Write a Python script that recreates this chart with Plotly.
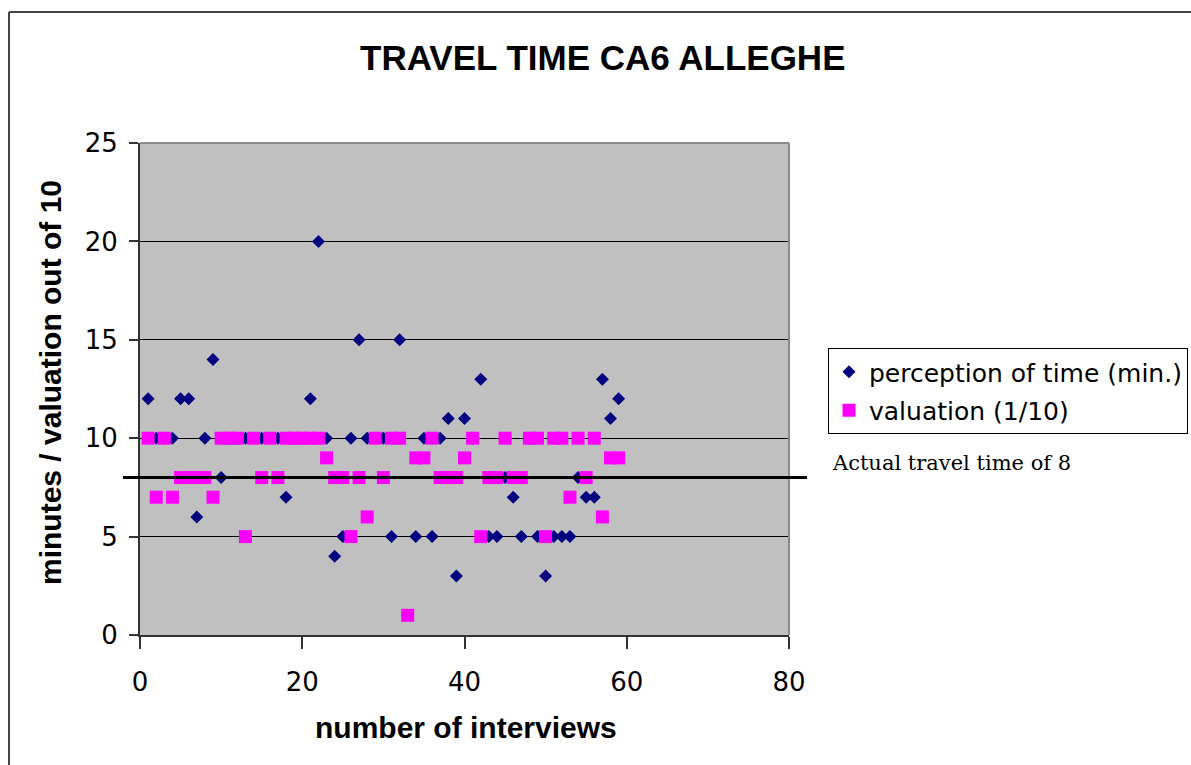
import plotly.graph_objects as go

# Interview index and the two answers given in each interview
interviews = list(range(1, 60))
perception_min = [12, 10, 10, 10, 12, 12, 6, 10, 14, 8,
                  10, 10, 10, 10, 10, 10, 10, 7, 10, 10,
                  12, 20, 10, 4, 5, 10, 15, 10, 10, 10,
                  5, 15, 1, 5, 10, 5, 10, 11, 3, 11,
                  10, 13, 5, 5, 8, 7, 5, 10, 5, 3,
                  5, 5, 5, 8, 7, 7, 13, 11, 12]
valuation_10 = [10, 7, 10, 7, 8, 8, 8, 8, 7, 10,
                10, 10, 5, 10, 8, 10, 8, 10, 10, 10,
                10, 10, 9, 8, 8, 5, 8, 6, 10, 8,
                10, 10, 1, 9, 9, 10, 8, 8, 8, 9,
                10, 5, 8, 8, 10, 8, 8, 10, 10, 5,
                10, 10, 7, 10, 8, 10, 6, 9, 9]
actual_travel_time = 8

x_ticks = [0, 20, 40, 60, 80]
y_ticks = [0, 5, 10, 15, 20, 25]

# Page geometry (pixels) of the plotting area
W, H = 1191, 765
L, R, T, B = 140, 789, 143, 635
PW, PH = R - L, B - T


def xp(px):
    return (px - L) / PW


def yp(py):
    return (B - py) / PH


SANS = "DejaVu Sans, Verdana, sans-serif"
BOLD = "Liberation Sans, Arial, sans-serif"

fig = go.Figure()
fig.add_trace(go.Scatter(
    x=interviews, y=perception_min, mode="markers",
    name="perception of time (min.)", legendgroup="p",
    marker=dict(symbol="diamond", size=10, color="#000080", line=dict(width=0)),
))
fig.add_trace(go.Scatter(
    x=interviews, y=valuation_10, mode="markers",
    name="valuation (1/10)", legendgroup="v",
    marker=dict(symbol="square", size=13, color="#FF00FF", line=dict(width=0)),
))

fig.update_layout(
    template="none",
    width=W, height=H,
    margin=dict(l=L, r=W - R, t=T, b=H - B, pad=0, autoexpand=False),
    paper_bgcolor="white",
    plot_bgcolor="#C0C0C0",
    showlegend=True,
    legend=dict(
        x=xp(828), y=yp(348), xanchor="left", yanchor="top",
        bgcolor="white", bordercolor="black", borderwidth=1,
        font=dict(family=SANS, size=25, color="black"),
        tracegroupgap=3,
    ),
    xaxis=dict(
        range=[0, 80], tickvals=x_ticks, ticktext=[str(v) for v in x_ticks],
        showgrid=False, zeroline=False,
        showline=True, linecolor="#333333", linewidth=2,
        ticks="outside", ticklen=12, tickcolor="#333333", tickwidth=2,
        tickfont=dict(family=SANS, size=26, color="black"),
        ticklabelstandoff=11,
    ),
    yaxis=dict(
        range=[0, 25], tickvals=y_ticks, ticktext=[str(v) for v in y_ticks],
        showgrid=True, gridcolor="black", gridwidth=1, zeroline=False,
        showline=True, linecolor="#333333", linewidth=2,
        ticks="outside", ticklen=9, tickcolor="#333333", tickwidth=2,
        tickfont=dict(family=SANS, size=26, color="black"),
        ticklabelstandoff=6,
    ),
    shapes=[
        # gray top and right edge of the plotting area
        dict(type="line", xref="paper", yref="paper", x0=0, x1=1, y0=1, y1=1,
             line=dict(color="#8C8C8C", width=2), layer="above"),
        dict(type="line", xref="paper", yref="paper", x0=1, x1=1, y0=0, y1=1,
             line=dict(color="#8C8C8C", width=2), layer="above"),
        # outer chart frame
        dict(type="line", xref="paper", yref="paper", x0=xp(9), x1=xp(W + 5),
             y0=yp(12), y1=yp(12), line=dict(color="#444444", width=2), layer="above"),
        dict(type="line", xref="paper", yref="paper", x0=xp(9), x1=xp(9),
             y0=yp(12), y1=yp(H + 5), line=dict(color="#444444", width=2), layer="above"),
        # actual travel time reference line
        dict(type="line", xref="paper", yref="y", x0=xp(123), x1=xp(807),
             y0=actual_travel_time, y1=actual_travel_time,
             line=dict(color="black", width=3), layer="above"),
    ],
    annotations=[
        dict(text="<b>TRAVEL TIME CA6 ALLEGHE</b>", xref="paper", yref="paper",
             x=xp(603), y=yp(57), xanchor="center", yanchor="middle", showarrow=False,
             font=dict(family=BOLD, size=35, color="black")),
        dict(text="<b>number of interviews</b>", xref="paper", yref="paper",
             x=xp(466), y=yp(727), xanchor="center", yanchor="middle", showarrow=False,
             font=dict(family=BOLD, size=30, color="black")),
        dict(text="<b>minutes / valuation out of 10</b>", xref="paper", yref="paper",
             x=xp(50), y=yp(383), xanchor="center", yanchor="middle", showarrow=False,
             textangle=-90, font=dict(family=BOLD, size=30, color="black")),
        dict(text="Actual travel time of 8", xref="paper", yref="paper",
             x=xp(830), y=yp(463), xanchor="left", yanchor="middle", showarrow=False,
             font=dict(family="DejaVu Serif, serif", size=21, color="black")),
    ],
)

fig.write_html("out.html")
